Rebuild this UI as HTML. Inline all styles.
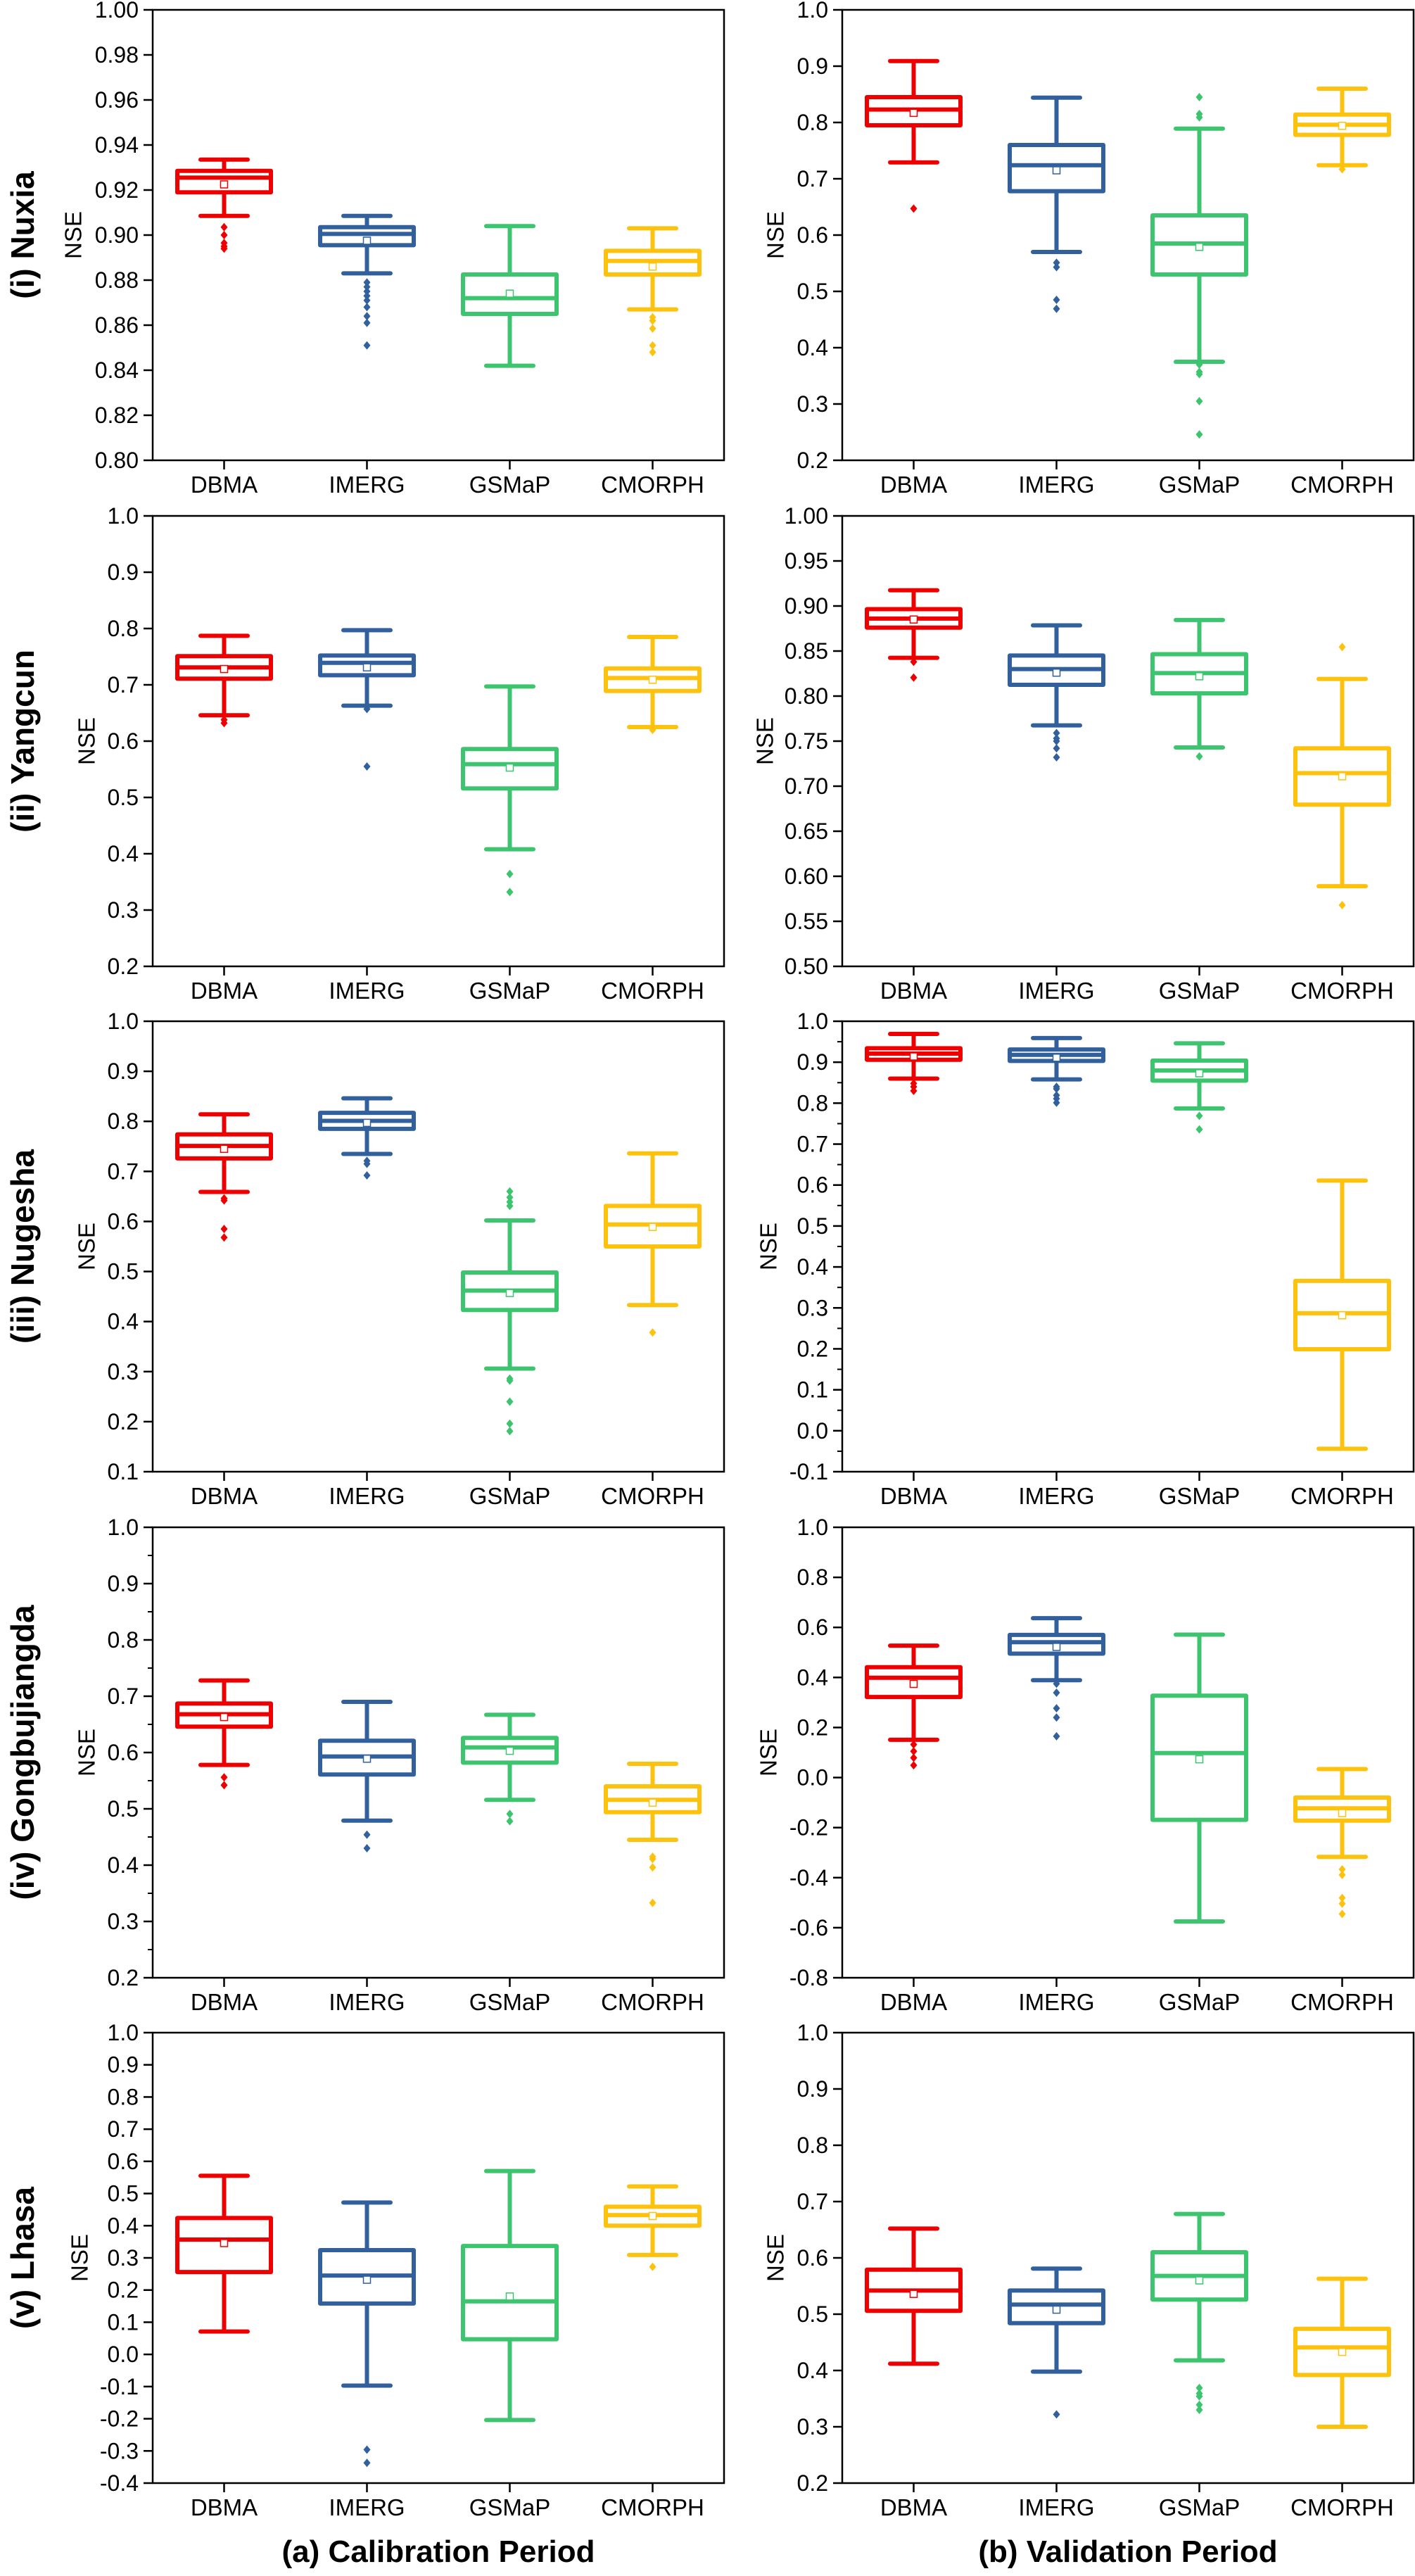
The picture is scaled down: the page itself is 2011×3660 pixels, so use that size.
<!DOCTYPE html>
<html><head><meta charset="utf-8"><style>
html,body{margin:0;padding:0;background:#fff;}
svg{display:block;}
text{font-family:"Liberation Sans",Arial,sans-serif;}
</style></head>
<body>
<svg id="fig" width="2011" height="3660" viewBox="0 0 2011 3660" xmlns="http://www.w3.org/2000/svg"></svg>
<script>
const categories = ["DBMA","IMERG","GSMaP","CMORPH"];
const colors = ["#ee0000","#31609c","#3cc46e","#fdc20e"];
const rowLabels = ["(i) Nuxia","(ii) Yangcun","(iii) Nugesha","(iv) Gongbujiangda","(v) Lhasa"];

// Calibration panels
const calNuxiaHigh=[0.9335,0.9085,0.904,0.903];
const calNuxiaQ3=[0.9285,0.9035,0.8825,0.893];
const calNuxiaMed=[0.9255,0.9005,0.872,0.8885];
const calNuxiaQ1=[0.919,0.8955,0.865,0.8825];
const calNuxiaLow=[0.9085,0.883,0.842,0.867];
const calNuxiaMean=[0.9225,0.8975,0.874,0.886];
const calNuxiaOut=[[0.9035,0.900,0.8965,0.895,0.894],[0.879,0.877,0.875,0.873,0.871,0.868,0.864,0.861,0.851],[],[0.8635,0.862,0.8585,0.851,0.848]];

const calYangHigh=[0.787,0.797,0.697,0.785];
const calYangQ3=[0.751,0.752,0.586,0.729];
const calYangMed=[0.731,0.739,0.559,0.712];
const calYangQ1=[0.711,0.717,0.516,0.689];
const calYangLow=[0.646,0.663,0.408,0.625];
const calYangMean=[0.728,0.731,0.553,0.709];
const calYangOut=[[0.638,0.632],[0.657,0.555],[0.364,0.332],[0.620]];

const calNugHigh=[0.814,0.846,0.602,0.736];
const calNugQ3=[0.774,0.817,0.498,0.631];
const calNugMed=[0.751,0.801,0.462,0.594];
const calNugQ1=[0.726,0.785,0.423,0.550];
const calNugLow=[0.659,0.735,0.306,0.433];
const calNugMean=[0.745,0.797,0.457,0.589];
const calNugOut=[[0.646,0.642,0.585,0.568],[0.721,0.715,0.692],[0.660,0.648,0.639,0.631,0.286,0.282,0.240,0.196,0.181],[0.378]];

const calGongHigh=[0.728,0.690,0.667,0.580];
const calGongQ3=[0.687,0.621,0.626,0.540];
const calGongMed=[0.668,0.593,0.609,0.516];
const calGongQ1=[0.646,0.561,0.582,0.494];
const calGongLow=[0.578,0.479,0.516,0.445];
const calGongMean=[0.663,0.589,0.603,0.511];
const calGongOut=[[0.556,0.542],[0.454,0.430],[0.491,0.478],[0.415,0.411,0.396,0.333]];

const calLhasaHigh=[0.555,0.472,0.570,0.522];
const calLhasaQ3=[0.424,0.324,0.337,0.459];
const calLhasaMed=[0.357,0.245,0.165,0.433];
const calLhasaQ1=[0.256,0.158,0.047,0.400];
const calLhasaLow=[0.071,-0.097,-0.204,0.309];
const calLhasaMean=[0.346,0.232,0.180,0.430];
const calLhasaOut=[[],[-0.296,-0.337],[],[0.272]];

// Validation panels
const valNuxiaHigh=[0.909,0.844,0.789,0.860];
const valNuxiaQ3=[0.845,0.760,0.635,0.814];
const valNuxiaMed=[0.823,0.724,0.585,0.796];
const valNuxiaQ1=[0.795,0.678,0.530,0.778];
const valNuxiaLow=[0.729,0.570,0.375,0.724];
const valNuxiaMean=[0.817,0.715,0.579,0.794];
const valNuxiaOut=[[0.647],[0.551,0.543,0.485,0.469],[0.845,0.815,0.809,0.370,0.357,0.353,0.305,0.246],[0.717]];

const valYangHigh=[0.9175,0.8785,0.8845,0.819];
const valYangQ3=[0.8965,0.845,0.8465,0.742];
const valYangMed=[0.886,0.830,0.8255,0.7145];
const valYangQ1=[0.876,0.8125,0.803,0.6795];
const valYangLow=[0.8425,0.7675,0.743,0.589];
const valYangMean=[0.885,0.826,0.822,0.711];
const valYangOut=[[0.838,0.8205],[0.759,0.753,0.750,0.742,0.732],[0.733],[0.8545,0.568]];

const valNugHigh=[0.969,0.959,0.946,0.611];
const valNugQ3=[0.934,0.931,0.904,0.366];
const valNugMed=[0.921,0.918,0.880,0.287];
const valNugQ1=[0.906,0.903,0.855,0.199];
const valNugLow=[0.860,0.858,0.787,-0.044];
const valNugMean=[0.914,0.911,0.873,0.282];
const valNugOut=[[0.848,0.840,0.830],[0.840,0.835,0.819,0.811,0.801],[0.769,0.736],[]];

const valGongHigh=[0.527,0.637,0.571,0.034];
const valGongQ3=[0.441,0.570,0.327,-0.080];
const valGongMed=[0.399,0.541,0.098,-0.123];
const valGongQ1=[0.322,0.495,-0.169,-0.172];
const valGongLow=[0.151,0.389,-0.575,-0.317];
const valGongMean=[0.374,0.522,0.073,-0.142];
const valGongOut=[[0.132,0.105,0.079,0.049],[0.375,0.339,0.277,0.240,0.165],[],[-0.367,-0.389,-0.481,-0.504,-0.545]];

const valLhasaHigh=[0.652,0.581,0.678,0.563];
const valLhasaQ3=[0.579,0.542,0.610,0.474];
const valLhasaMed=[0.542,0.517,0.568,0.441];
const valLhasaQ1=[0.506,0.484,0.526,0.392];
const valLhasaLow=[0.412,0.398,0.418,0.300];
const valLhasaMean=[0.536,0.508,0.560,0.433];
const valLhasaOut=[[],[0.322],[0.369,0.359,0.354,0.339,0.330],[]];

// Axis tick arrays
const ticksCalNuxia=[0.80,0.82,0.84,0.86,0.88,0.90,0.92,0.94,0.96,0.98,1.00];
const ticksValNuxia=[0.2,0.3,0.4,0.5,0.6,0.7,0.8,0.9,1.0];
const ticksCalYang=[0.2,0.3,0.4,0.5,0.6,0.7,0.8,0.9,1.0];
const ticksValYang=[0.50,0.55,0.60,0.65,0.70,0.75,0.80,0.85,0.90,0.95,1.00];
const ticksCalNug=[0.1,0.2,0.3,0.4,0.5,0.6,0.7,0.8,0.9,1.0];
const ticksValNug=[-0.1,0.0,0.1,0.2,0.3,0.4,0.5,0.6,0.7,0.8,0.9,1.0];
const ticksCalGong=[0.2,0.3,0.4,0.5,0.6,0.7,0.8,0.9,1.0];
const ticksValGong=[-0.8,-0.6,-0.4,-0.2,0.0,0.2,0.4,0.6,0.8,1.0];
const ticksCalLhasa=[-0.4,-0.3,-0.2,-0.1,0.0,0.1,0.2,0.3,0.4,0.5,0.6,0.7,0.8,0.9,1.0];
const ticksValLhasa=[0.2,0.3,0.4,0.5,0.6,0.7,0.8,0.9,1.0];

const panels=[
 {id:"cal-nuxia",col:0,row:0,min:0.80,max:1.00,ticks:ticksCalNuxia,dec:2,minor:0,nseX:107,d:[calNuxiaHigh,calNuxiaQ3,calNuxiaMed,calNuxiaQ1,calNuxiaLow,calNuxiaMean,calNuxiaOut]},
 {id:"cal-yangcun",col:0,row:1,min:0.2,max:1.0,ticks:ticksCalYang,dec:1,minor:0,nseX:126,d:[calYangHigh,calYangQ3,calYangMed,calYangQ1,calYangLow,calYangMean,calYangOut]},
 {id:"cal-nugesha",col:0,row:2,min:0.1,max:1.0,ticks:ticksCalNug,dec:1,minor:0,nseX:126,d:[calNugHigh,calNugQ3,calNugMed,calNugQ1,calNugLow,calNugMean,calNugOut]},
 {id:"cal-gongbujiangda",col:0,row:3,min:0.2,max:1.0,ticks:ticksCalGong,dec:1,minor:0.05,nseX:126,d:[calGongHigh,calGongQ3,calGongMed,calGongQ1,calGongLow,calGongMean,calGongOut]},
 {id:"cal-lhasa",col:0,row:4,min:-0.4,max:1.0,ticks:ticksCalLhasa,dec:1,minor:0,nseX:116,d:[calLhasaHigh,calLhasaQ3,calLhasaMed,calLhasaQ1,calLhasaLow,calLhasaMean,calLhasaOut]},
 {id:"val-nuxia",col:1,row:0,min:0.2,max:1.0,ticks:ticksValNuxia,dec:1,minor:0,nseX:1105,d:[valNuxiaHigh,valNuxiaQ3,valNuxiaMed,valNuxiaQ1,valNuxiaLow,valNuxiaMean,valNuxiaOut]},
 {id:"val-yangcun",col:1,row:1,min:0.5,max:1.0,ticks:ticksValYang,dec:2,minor:0,nseX:1090,d:[valYangHigh,valYangQ3,valYangMed,valYangQ1,valYangLow,valYangMean,valYangOut]},
 {id:"val-nugesha",col:1,row:2,min:-0.1,max:1.0,ticks:ticksValNug,dec:1,minor:0.05,nseX:1095,d:[valNugHigh,valNugQ3,valNugMed,valNugQ1,valNugLow,valNugMean,valNugOut]},
 {id:"val-gongbujiangda",col:1,row:3,min:-0.8,max:1.0,ticks:ticksValGong,dec:1,minor:0,nseX:1095,d:[valGongHigh,valGongQ3,valGongMed,valGongQ1,valGongLow,valGongMean,valGongOut]},
 {id:"val-lhasa",col:1,row:4,min:0.2,max:1.0,ticks:ticksValLhasa,dec:1,minor:0,nseX:1105,d:[valLhasaHigh,valLhasaQ3,valLhasaMed,valLhasaQ1,valLhasaLow,valLhasaMean,valLhasaOut]}
];

const NS="http://www.w3.org/2000/svg";
const svg=document.getElementById('fig');
function mk(tag,attrs,parent){const e=document.createElementNS(NS,tag);for(const k in attrs)e.setAttribute(k,attrs[k]);(parent||svg).appendChild(e);return e;}

const colLeft=[217,1197], colRight=[1029,2009];
const rowTop=[14,733,1451,2170,2888], H=640;

panels.forEach(p=>{
  const L=colLeft[p.col], R=colRight[p.col], T=rowTop[p.row], B=T+H;
  const step=(R-L)/4;
  const xScale=i=>L+step*(i+0.5);
  const yScale=v=>T+(p.max-v)/(p.max-p.min)*H;
  const g=mk('g',{});
  
  
  // frame
  const fr=mk('rect',{x:L,y:T,width:R-L,height:H,fill:'none',stroke:'#000','stroke-width':2.5},g);
  
  
  // y ticks
  p.ticks.forEach(t=>{
    const y=yScale(t);
    const tk=mk('line',{x1:L-13,x2:L,y1:y,y2:y,stroke:'#000','stroke-width':2.5},g);
    
    
    const tl=mk('text',{x:L-20,y:y+11,'text-anchor':'end','font-size':32,fill:'#000'},g);
    tl.textContent=t.toFixed(p.dec);
    
    
  });
  if(p.minor){
    for(let v=p.min+p.minor; v<p.max-1e-9; v+=2*p.minor){
      const y=yScale(v);
      const mt=mk('line',{x1:L-7,x2:L,y1:y,y2:y,stroke:'#000','stroke-width':2},g);
      
      
    }
  }
  // NSE label
  const cy=T+H/2;
  const nl=mk('text',{x:p.nseX,y:cy,'text-anchor':'middle','font-size':33,fill:'#000',transform:`rotate(-90 ${p.nseX} ${cy})`,'dominant-baseline':'middle'},g);
  nl.textContent='NSE';
  
  
  // categories
  categories.forEach((c,i)=>{
    const x=xScale(i);
    const bt=mk('line',{x1:x,x2:x,y1:B,y2:B+13,stroke:'#000','stroke-width':2.5},g);
    
    
    const cl=mk('text',{x:x,y:B+46,'text-anchor':'middle','font-size':33,fill:'#000'},g);
    cl.textContent=c;
    
    
  });
  // boxes
  const [hi,q3,med,q1,lo,mean,outs]=p.d;
  categories.forEach((c,i)=>{
    const col=colors[i], x=xScale(i), bw=133, cw=67, sw=6;
    const bg=mk('g',{},g);
    
    
    mk('line',{x1:x,x2:x,y1:yScale(hi[i]),y2:yScale(q3[i]),stroke:col,'stroke-width':sw},bg);
    mk('line',{x1:x,x2:x,y1:yScale(q1[i]),y2:yScale(lo[i]),stroke:col,'stroke-width':sw},bg);
    mk('line',{x1:x-cw/2,x2:x+cw/2,y1:yScale(hi[i]),y2:yScale(hi[i]),stroke:col,'stroke-width':sw,'stroke-linecap':'round'},bg);
    mk('line',{x1:x-cw/2,x2:x+cw/2,y1:yScale(lo[i]),y2:yScale(lo[i]),stroke:col,'stroke-width':sw,'stroke-linecap':'round'},bg);
    mk('rect',{x:x-bw/2,y:yScale(q3[i]),width:bw,height:Math.max(0,yScale(q1[i])-yScale(q3[i])),fill:'none',stroke:col,'stroke-width':sw,'stroke-linejoin':'round'},bg);
    mk('line',{x1:x-bw/2,x2:x+bw/2,y1:yScale(med[i]),y2:yScale(med[i]),stroke:col,'stroke-width':sw},bg);
    const my=yScale(mean[i]);
    mk('rect',{x:x-5,y:my-5,width:10,height:10,fill:'#fff',stroke:col,'stroke-width':1.5},bg);
    outs[i].forEach(v=>{
      const oy=yScale(v);
      const d=mk('path',{d:`M${x} ${oy-6}L${x+5} ${oy}L${x} ${oy+6}L${x-5} ${oy}Z`,fill:col},bg);
      
      
    });
  });
  // row label (left column only)
  if(p.col===0){
    const rl=mk('text',{x:36,y:cy,'text-anchor':'middle','font-size':46,'font-weight':'bold',fill:'#000',transform:`rotate(-90 36 ${cy})`,'dominant-baseline':'middle'});
    rl.textContent=rowLabels[p.row];
    
    
  }
});

const t1=mk('text',{x:623,y:3640,'text-anchor':'middle','font-size':44,'font-weight':'bold',fill:'#000'});
t1.textContent='(a) Calibration Period';


const t2=mk('text',{x:1603,y:3640,'text-anchor':'middle','font-size':44,'font-weight':'bold',fill:'#000'});
t2.textContent='(b) Validation Period';


</script>
</body></html>
